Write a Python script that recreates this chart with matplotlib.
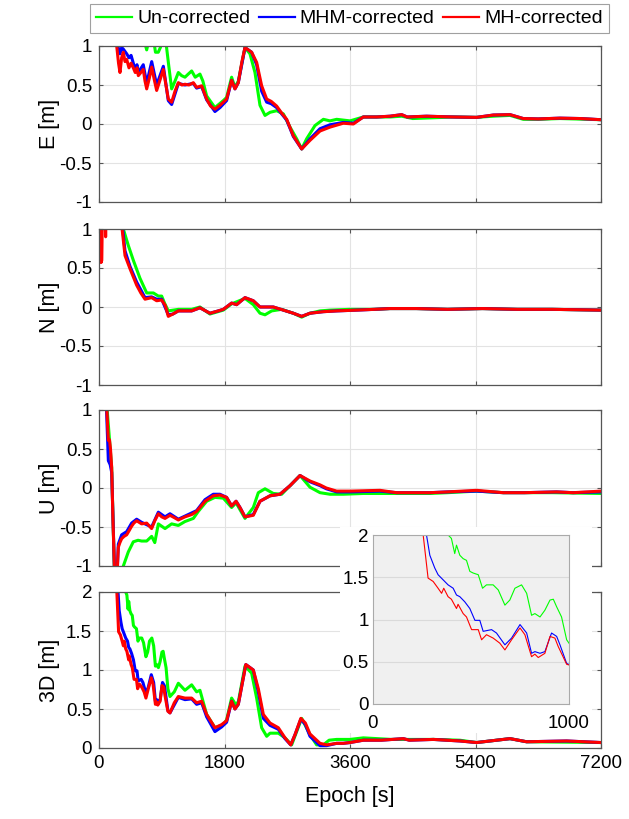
import matplotlib
matplotlib.use("Agg")
import matplotlib.pyplot as plt
from matplotlib.lines import Line2D

plt.rcParams["font.family"] = ["Liberation Sans", "DejaVu Sans"]

# ---- E component ----
e_t_red = [230, 254, 280, 301, 325, 349, 373, 397, 430, 460, 492, 520, 545, 564, 600, 635, 660, 684, 720, 756,
           790, 827, 870, 923, 960, 994, 1042, 1090, 1138, 1190, 1233, 1290, 1353, 1400, 1472, 1544, 1600, 1663,
           1735, 1783, 1830, 1902, 1950, 1998, 2050, 2094, 2189, 2261, 2333, 2405, 2470, 2548, 2620, 2692, 2787,
           2907, 3026, 3170, 3313, 3504, 3648, 3791, 3983, 4174, 4341, 4420, 4698, 5081, 5416, 5655, 5895, 6085,
           6300, 6611, 6900, 7200]
e_red = [1.3, 1.0, 0.78, 0.66, 0.85, 0.92, 0.8, 0.83, 0.72, 0.78, 0.72, 0.66, 0.72, 0.62, 0.66, 0.70, 0.55, 0.45,
         0.58, 0.73, 0.58, 0.43, 0.55, 0.70, 0.50, 0.32, 0.28, 0.42, 0.53, 0.50, 0.51, 0.50, 0.53, 0.47, 0.49, 0.32,
         0.23, 0.19, 0.24, 0.28, 0.32, 0.56, 0.45, 0.53, 0.80, 0.98, 0.92, 0.79, 0.49, 0.32, 0.29, 0.23, 0.14, 0.06,
         -0.15, -0.32, -0.21, -0.09, -0.04, 0.01, 0.0, 0.09, 0.09, 0.10, 0.12, 0.09, 0.10, 0.09, 0.085, 0.115, 0.12,
         0.07, 0.065, 0.075, 0.07, 0.055]
e_t_blue = [230, 254, 301, 325, 349, 397, 430, 460, 492, 520, 545, 564, 635, 684, 756, 827, 923, 994, 1042, 1138,
            1233, 1353, 1400, 1472, 1544, 1663, 1735, 1830, 1902, 1950, 1998, 2094, 2189, 2261, 2333, 2405, 2470,
            2548, 2692, 2787, 2907, 3026, 3170, 3313, 3504, 3648, 3791, 3983, 4174, 4341, 4420, 4698, 5081, 5416,
            5655, 5895, 6085, 6300, 6611, 6900, 7200]
e_blue = [1.3, 1.05, 0.9, 0.98, 0.96, 0.9, 0.85, 0.88, 0.78, 0.70, 0.76, 0.66, 0.76, 0.52, 0.80, 0.50, 0.74, 0.30,
          0.25, 0.52, 0.50, 0.52, 0.46, 0.48, 0.31, 0.16, 0.21, 0.30, 0.56, 0.45, 0.53, 0.98, 0.92, 0.76, 0.42,
          0.28, 0.26, 0.21, 0.05, -0.16, -0.32, -0.19, -0.06, -0.01, 0.02, 0.01, 0.09, 0.09, 0.10, 0.12, 0.09, 0.10,
          0.09, 0.085, 0.115, 0.12, 0.07, 0.065, 0.075, 0.07, 0.055]
e_t_green = [600, 640, 684, 720, 780, 810, 850, 880, 925, 960, 1000, 1042, 1090, 1138, 1185, 1233, 1280, 1329,
             1380, 1448, 1490, 1544, 1663, 1783, 1830, 1902, 1950, 1998, 2094, 2165, 2237, 2309, 2381, 2453, 2548,
             2644, 2740, 2835, 2907, 2978, 3098, 3218, 3313, 3409, 3600, 3791, 3983, 4174, 4341, 4500, 4800, 5081,
             5416, 5655, 5895, 6085, 6300, 6611, 7200]
e_green = [1.3, 1.1, 0.95, 1.1, 1.1, 0.92, 0.92, 0.98, 1.1, 1.05, 0.75, 0.45, 0.55, 0.66, 0.62, 0.60, 0.64, 0.68,
           0.60, 0.64, 0.55, 0.36, 0.21, 0.30, 0.34, 0.60, 0.47, 0.55, 0.98, 0.90, 0.66, 0.24, 0.11, 0.15, 0.17,
           0.13, -0.04, -0.19, -0.32, -0.19, -0.02, 0.06, 0.04, 0.06, 0.04, 0.09, 0.09, 0.09, 0.10, 0.07, 0.08,
           0.09, 0.085, 0.10, 0.11, 0.06, 0.06, 0.07, 0.055]

# ---- N component ----
n_t_red = [0, 12, 20, 30, 40, 50, 85, 95, 105, 325, 373, 445, 540, 600, 660, 755, 827, 899, 950, 994, 1060, 1138,
           1233, 1329, 1448, 1591, 1711, 1783, 1902, 1974, 2094, 2213, 2309, 2500, 2644, 2787, 2907, 3026, 3218,
           3409, 3700, 3950, 4174, 4550, 5000, 5500, 6000, 6500, 7200]
n_red = [1.3, 0.58, 1.2, 0.57, 0.6, 1.3, 1.3, 0.9, 1.3, 1.05, 0.66, 0.49, 0.28, 0.18, 0.10, 0.12, 0.08, 0.09, 0.02,
         -0.12, -0.09, -0.05, -0.05, -0.05, -0.01, -0.08, -0.05, -0.03, 0.05, 0.03, 0.12, 0.08, 0.0, 0.0, -0.04,
         -0.08, -0.12, -0.08, -0.06, -0.05, -0.04, -0.03, -0.02, -0.02, -0.03, -0.02, -0.03, -0.03, -0.04]
n_t_blue = [300, 340, 373, 445, 540, 660, 755, 827, 899, 994, 1060, 1138, 1233, 1329, 1448, 1591, 1711, 1783, 1902,
            1974, 2094, 2213, 2309, 2500, 2644, 2787, 2907, 3026, 3218, 3409, 3700, 3950, 4174, 4550, 5000, 5500,
            6000, 6500, 7200]
n_blue = [1.3, 1.0, 0.72, 0.52, 0.32, 0.12, 0.13, 0.10, 0.10, -0.10, -0.09, -0.05, -0.05, -0.05, -0.01, -0.08,
          -0.05, -0.03, 0.05, 0.03, 0.12, 0.08, 0.0, 0.0, -0.04, -0.08, -0.12, -0.08, -0.06, -0.05, -0.04, -0.03,
          -0.02, -0.02, -0.03, -0.02, -0.03, -0.03, -0.04]
n_t_green = [300, 349, 420, 492, 587, 684, 780, 851, 899, 940, 994, 1138, 1329, 1448, 1591, 1783, 1902, 2094, 2213,
             2309, 2381, 2477, 2620, 2787, 2907, 3026, 3170, 3313, 3600, 3950, 4174, 4550, 5000, 5500, 6000, 6500,
             7200]
n_green = [1.3, 1.0, 0.79, 0.6, 0.37, 0.18, 0.18, 0.14, 0.14, 0.05, -0.05, -0.03, -0.03, 0.0, -0.09, -0.04, 0.04,
           0.11, 0.03, -0.08, -0.1, -0.05, -0.03, -0.08, -0.13, -0.08, -0.05, -0.04, -0.03, -0.03, -0.02, -0.02,
           -0.03, -0.02, -0.03, -0.03, -0.04]

# ---- U component ----
u_t_red = [0, 100, 115, 134, 150, 165, 182, 200, 230, 255, 277, 300, 325, 360, 397, 430, 468, 500, 540, 611, 684,
           755, 800, 851, 900, 947, 1018, 1080, 1138, 1233, 1330, 1400, 1520, 1639, 1735, 1830, 1902, 1966, 2022,
           2094, 2213, 2309, 2453, 2596, 2740, 2883, 3026, 3170, 3260, 3409, 3600, 4030, 4268, 4747, 5000, 5416,
           5799, 6100, 6563, 6800, 7200]
u_red = [1.5, 1.2, 0.95, 0.61, 0.62, 0.5, 0.26, -0.4, -1.3, -1.2, -0.76, -0.70, -0.65, -0.62, -0.6, -0.55, -0.49,
         -0.45, -0.42, -0.46, -0.45, -0.52, -0.42, -0.33, -0.37, -0.39, -0.35, -0.38, -0.41, -0.37, -0.34, -0.30,
         -0.17, -0.10, -0.09, -0.12, -0.23, -0.17, -0.25, -0.37, -0.35, -0.17, -0.10, -0.08, 0.03, 0.16, 0.09,
         0.04, 0.0, -0.04, -0.04, -0.03, -0.06, -0.06, -0.05, -0.03, -0.06, -0.06, -0.05, -0.06, -0.04]
u_t_blue = [0, 100, 134, 160, 182, 230, 255, 277, 325, 397, 468, 540, 611, 755, 851, 947, 1018, 1138, 1400, 1520,
            1639, 1735, 1830, 1902, 1966, 2022, 2094, 2213, 2309, 2453, 2596, 2740, 2883, 3026, 3170, 3260, 3409,
            3600, 4030, 4268, 4747, 5000, 5416, 5799, 6100, 6563, 6800, 7200]
u_blue = [1.5, 1.2, 0.35, 0.3, 0.2, -1.3, -1.2, -0.72, -0.6, -0.56, -0.45, -0.40, -0.44, -0.5, -0.31, -0.37,
          -0.33, -0.40, -0.29, -0.15, -0.08, -0.08, -0.12, -0.23, -0.17, -0.25, -0.37, -0.34, -0.17, -0.10, -0.08,
          0.03, 0.16, 0.08, 0.03, -0.01, -0.05, -0.05, -0.04, -0.06, -0.06, -0.05, -0.04, -0.06, -0.06, -0.05,
          -0.06, -0.05]
u_t_green = [0, 100, 182, 230, 330, 349, 420, 492, 560, 611, 684, 755, 800, 851, 947, 1042, 1138, 1233, 1353, 1424,
             1544, 1663, 1783, 1902, 1966, 2094, 2213, 2285, 2381, 2500, 2620, 2740, 2883, 3026, 3170, 3313, 3504,
             3791, 4270, 4750, 5000, 5416, 5800, 6500, 7200]
u_green = [1.5, 1.2, 0.26, -1.4, -1.1, -1.0, -0.82, -0.69, -0.67, -0.68, -0.68, -0.62, -0.70, -0.46, -0.52, -0.46,
           -0.48, -0.43, -0.39, -0.30, -0.17, -0.12, -0.13, -0.25, -0.19, -0.39, -0.25, -0.06, -0.01, -0.07, -0.08,
           0.03, 0.16, 0.01, -0.06, -0.08, -0.08, -0.07, -0.07, -0.07, -0.06, -0.04, -0.06, -0.06, -0.07]

# ---- 3D ----
d_t_red = [200, 256, 281, 307, 332, 350, 361, 383, 400, 426, 434, 460, 477, 503, 537, 554, 579, 613, 647, 673, 707,
           750, 775, 809, 826, 843, 877, 903, 928, 945, 988, 1018, 1080, 1138, 1233, 1329, 1400, 1472, 1544, 1663,
           1759, 1830, 1902, 1950, 1998, 2106, 2213, 2285, 2357, 2453, 2572, 2668, 2750, 2811, 2895, 2960, 3026,
           3170, 3265, 3409, 3504, 3600, 3791, 4050, 4365, 4450, 4795, 5176, 5416, 5895, 6133, 6707, 7200]
d_red = [2.6, 2.0, 1.49, 1.45, 1.37, 1.31, 1.37, 1.27, 1.24, 1.13, 1.18, 1.07, 1.03, 0.88, 0.88, 0.76, 0.82, 0.78,
         0.72, 0.64, 0.76, 0.90, 0.82, 0.56, 0.59, 0.55, 0.60, 0.80, 0.78, 0.68, 0.47, 0.45, 0.58, 0.66, 0.64, 0.64,
         0.58, 0.60, 0.43, 0.26, 0.30, 0.35, 0.60, 0.50, 0.56, 1.07, 1.0, 0.76, 0.43, 0.32, 0.26, 0.13, 0.04, 0.17,
         0.38, 0.32, 0.18, 0.06, 0.04, 0.06, 0.06, 0.07, 0.10, 0.10, 0.12, 0.10, 0.11, 0.09, 0.07, 0.12, 0.08, 0.09,
         0.07]
d_t_blue = [220, 273, 290, 315, 332, 349, 366, 383, 409, 426, 443, 468, 494, 520, 545, 562, 605, 630, 673, 707,
            750, 784, 809, 826, 852, 877, 911, 937, 954, 988, 1018, 1138, 1233, 1329, 1400, 1472, 1544, 1663, 1759,
            1830, 1902, 1950, 1998, 2106, 2213, 2285, 2357, 2453, 2572, 2668, 2750, 2811, 2895, 2960, 3026, 3170,
            3265, 3409, 3504, 3600, 3791, 4050, 4365, 4450, 4795, 5176, 5416, 5895, 6133, 6707, 7200]
d_blue = [2.6, 2.0, 1.76, 1.61, 1.53, 1.49, 1.45, 1.41, 1.37, 1.29, 1.27, 1.21, 1.13, 0.99, 0.99, 0.86, 0.88,
          0.84, 0.70, 0.78, 0.94, 0.84, 0.60, 0.62, 0.60, 0.62, 0.84, 0.80, 0.70, 0.48, 0.45, 0.65, 0.62, 0.63,
          0.56, 0.58, 0.40, 0.21, 0.27, 0.33, 0.60, 0.50, 0.56, 1.07, 1.0, 0.72, 0.38, 0.29, 0.24, 0.12, 0.04,
          0.17, 0.37, 0.30, 0.15, 0.03, 0.03, 0.06, 0.06, 0.07, 0.10, 0.10, 0.12, 0.10, 0.11, 0.09, 0.07, 0.12,
          0.08, 0.09, 0.07]
d_t_green = [330, 383, 400, 417, 426, 443, 460, 477, 494, 511, 537, 559, 579, 613, 639, 673, 698, 724, 758, 784,
             809, 826, 852, 877, 903, 920, 937, 962, 988, 1018, 1080, 1138, 1233, 1329, 1400, 1448, 1544, 1663,
             1783, 1830, 1902, 1966, 2000, 2094, 2189, 2261, 2333, 2405, 2453, 2572, 2668, 2763, 2907, 3026, 3122,
             3218, 3300, 3409, 3600, 3791, 4200, 4800, 5176, 5416, 5895, 6133, 7200]
d_green = [2.6, 2.0, 1.96, 1.78, 1.88, 1.76, 1.72, 1.70, 1.57, 1.55, 1.53, 1.37, 1.41, 1.41, 1.35, 1.17, 1.23,
           1.37, 1.41, 1.31, 1.05, 1.07, 1.03, 1.11, 1.23, 1.24, 1.15, 1.03, 0.76, 0.66, 0.72, 0.83, 0.74, 0.81,
           0.72, 0.74, 0.43, 0.26, 0.30, 0.36, 0.64, 0.55, 0.60, 1.05, 0.96, 0.64, 0.26, 0.15, 0.19, 0.19, 0.13,
           0.04, 0.38, 0.17, 0.04, 0.04, 0.10, 0.11, 0.11, 0.13, 0.11, 0.11, 0.10, 0.07, 0.12, 0.08, 0.07]

panels = [
    ("E [m]", (e_t_green, e_green), (e_t_blue, e_blue), (e_t_red, e_red), (-1, 1)),
    ("N [m]", (n_t_green, n_green), (n_t_blue, n_blue), (n_t_red, n_red), (-1, 1)),
    ("U [m]", (u_t_green, u_green), (u_t_blue, u_blue), (u_t_red, u_red), (-1, 1)),
    ("3D [m]", (d_t_green, d_green), (d_t_blue, d_blue), (d_t_red, d_red), (0, 2)),
]
labels = ["Un-corrected", "MHM-corrected", "MH-corrected"]
colors = ["#00ff00", "#0000ff", "#ff0000"]
x_ticks = [0, 1800, 3600, 5400, 7200]

W, H = 629, 819
fig = plt.figure(figsize=(W / 100, H / 100), dpi=100)

ax_tops = [46, 229, 410, 592]
ax_h = 156
left, right = 99, 601

for i, (ylab, g, b, r, ylim) in enumerate(panels):
    top = ax_tops[i]
    ax = fig.add_axes([left / W, 1 - (top + ax_h) / H, (right - left) / W, ax_h / H])
    for (tt, vv), c in zip((g, b, r), colors):
        ax.plot(tt, vv, color=c, lw=2.2, solid_joinstyle="round")
    ax.set_xlim(0, 7200)
    ax.set_ylim(*ylim)
    ax.set_xticks(x_ticks)
    if ylim[0] < 0:
        ax.set_yticks([-1, -0.5, 0, 0.5, 1])
        ax.set_yticklabels(["-1", "-0.5", "0", "0.5", "1"])
    else:
        ax.set_yticks([0, 0.5, 1, 1.5, 2])
        ax.set_yticklabels(["0", "0.5", "1", "1.5", "2"])
    ax.grid(True, color="#e3e3e3", lw=0.8)
    ax.set_axisbelow(True)
    ax.tick_params(direction="in", top=True, right=True, length=3, color="#555555",
                   labelsize=13.5, pad=5)
    for s in ax.spines.values():
        s.set_color("#555555")
        s.set_linewidth(0.9)
    ax.set_ylabel(ylab, fontsize=15.5)
    ax.yaxis.set_label_coords(-0.078, 0.5)
    if i < 3:
        ax.tick_params(labelbottom=False)
    else:
        ax.set_xticklabels([str(v) for v in x_ticks])
        ax.set_xlabel("Epoch [s]", fontsize=15.5, labelpad=10)
    if i == 3:
        d_series = (g, b, r)

# white background behind the inset
bg = fig.add_axes([340 / W, 1 - 733 / H, (592 - 340) / W, (733 - 527) / H])
bg.set_facecolor("white")
bg.set_xticks([])
bg.set_yticks([])
for s in bg.spines.values():
    s.set_visible(False)

ins = fig.add_axes([373 / W, 1 - 704 / H, (569 - 373) / W, (704 - 535) / H])
ins.set_facecolor("#f0f0f0")
for (tt, vv), c in zip(d_series, colors):
    ins.plot(tt, vv, color=c, lw=0.8)
ins.set_xlim(0, 1000)
ins.set_ylim(0, 2)
ins.set_xticks([0, 1000])
ins.set_xticklabels(["0", "1000"])
ins.set_yticks([0, 0.5, 1, 1.5, 2])
ins.set_yticklabels(["0", "0.5", "1", "1.5", "2"])
ins.grid(True, axis="y", color="#dadada", lw=0.8)
ins.set_axisbelow(True)
ins.tick_params(length=0, labelsize=13.5)
ins.tick_params(axis="x", pad=8)
ins.tick_params(axis="y", pad=3)
for s in ins.spines.values():
    s.set_color("#aaaaaa")
    s.set_linewidth(0.8)

handles = [Line2D([], [], color=c, lw=1.6) for c in colors]
leg = fig.legend(handles, labels, loc="upper center", bbox_to_anchor=(349.5 / W, 1 - 4 / H), ncol=3,
                 fontsize=14, frameon=True, fancybox=False, edgecolor="#888888", handlelength=1.85,
                 handletextpad=0.25, columnspacing=0.45, borderpad=0.3, borderaxespad=0)
leg.get_frame().set_linewidth(0.8)

fig.savefig("out.png", dpi=100)
